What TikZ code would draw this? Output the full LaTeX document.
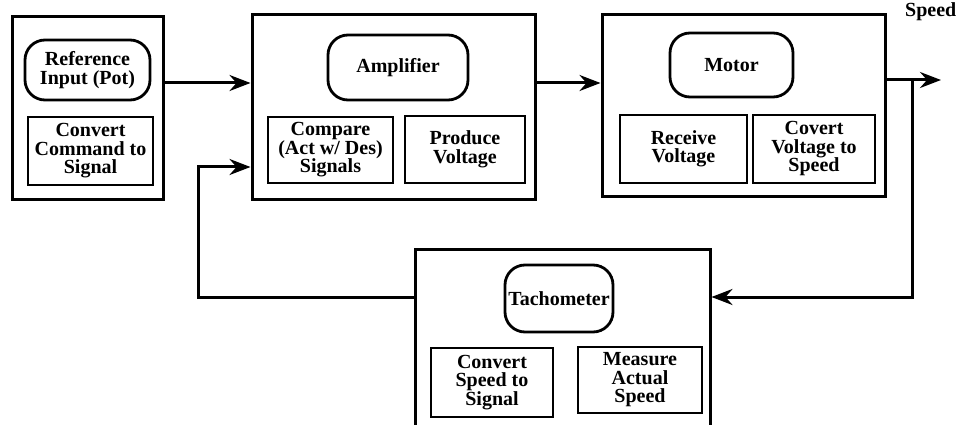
\documentclass[tikz,border=0pt]{standalone}
\usepackage{fontspec}
\setmainfont{Liberation Serif}
\usetikzlibrary{arrows.meta}
\begin{document}
\begin{tikzpicture}[x=1pt,y=-1pt,
  txt/.style={font=\fontsize{20}{18.5}\selectfont\bfseries, align=center, inner sep=1pt},
  outerbox/.style={draw, line width=3pt, txt},
  innerbox/.style={draw, line width=2.8pt, txt},
  roundbox/.style={draw, line width=2.8pt, rounded corners=20pt, txt},
  conn/.style={line width=3pt, -{Stealth[length=21pt,width=16pt,inset=7pt]}},
  plain/.style={line width=3pt}]
\clip (0,0) rectangle (959,425);
\useasboundingbox (0,0) rectangle (959,425);

% Reference block
\node[outerbox, minimum width=151pt, minimum height=183pt] (refbox) at (87.5,108.5) {};
\node[roundbox, minimum width=125pt, minimum height=60pt] (refin) at (87.5,70) {Reference\\Input (Pot)};
\node[innerbox, minimum width=125pt, minimum height=68pt] (refconv) at (90.5,151) {Convert\\Command to\\Signal};

% Amplifier block
\node[outerbox, minimum width=283pt, minimum height=185pt] (ampbox) at (393.5,107.5) {};
\node[roundbox, minimum width=140pt, minimum height=65pt] (amp) at (398,67.5) {Amplifier};
\node[innerbox, minimum width=125pt, minimum height=66pt] (compare) at (330.5,150) {Compare\\(Act w/ Des)\\Signals};
\node[innerbox, minimum width=120pt, minimum height=67pt] (produce) at (465,149.5) {Produce\\Voltage};

% Motor block
\node[outerbox, minimum width=283pt, minimum height=182pt] (motorbox) at (743.5,106) {};
\node[roundbox, minimum width=123pt, minimum height=64pt] (motor) at (731.5,65) {Motor};
\node[innerbox, minimum width=127pt, minimum height=68pt] (receive) at (683.5,149) {Receive\\Voltage};
\node[innerbox, minimum width=122pt, minimum height=68pt] (covert) at (814,149) {Covert\\Voltage to\\Speed};

% Tachometer block
\node[outerbox, minimum width=295pt, minimum height=191pt] (tachobox) at (562.5,344.5) {};
\node[roundbox, minimum width=108pt, minimum height=67pt] (tacho) at (559,298.5) {Tachometer};
\node[innerbox, minimum width=122pt, minimum height=69pt] (convspeed) at (492,382.5) {Convert\\Speed to\\Signal};
\node[innerbox, minimum width=124pt, minimum height=66pt] (measure) at (640,380) {Measure\\Actual\\Speed};

% Output label
\node[txt, anchor=west] (speed) at (904,12) {Speed};

% helper coordinates
\coordinate (a83) at (0,83);
\coordinate (s80) at (0,80);
\coordinate (speedend) at (941,80);
\coordinate (jn) at (912,80);
\coordinate (t297) at (0,297);
\coordinate (fb) at (198,167);

% connectors
\draw[conn] (refbox.east |- a83) -- (ampbox.west |- a83);
\draw[conn] (ampbox.east |- a83) -- (motorbox.west |- a83);
\draw[conn] (motorbox.east |- s80) -- (speedend);
\draw[conn] (jn) -- (jn |- t297) -- (tachobox.east |- t297);
\draw[conn] (tachobox.west |- t297) -| (fb) -- (ampbox.west |- fb);
\end{tikzpicture}
\end{document}
